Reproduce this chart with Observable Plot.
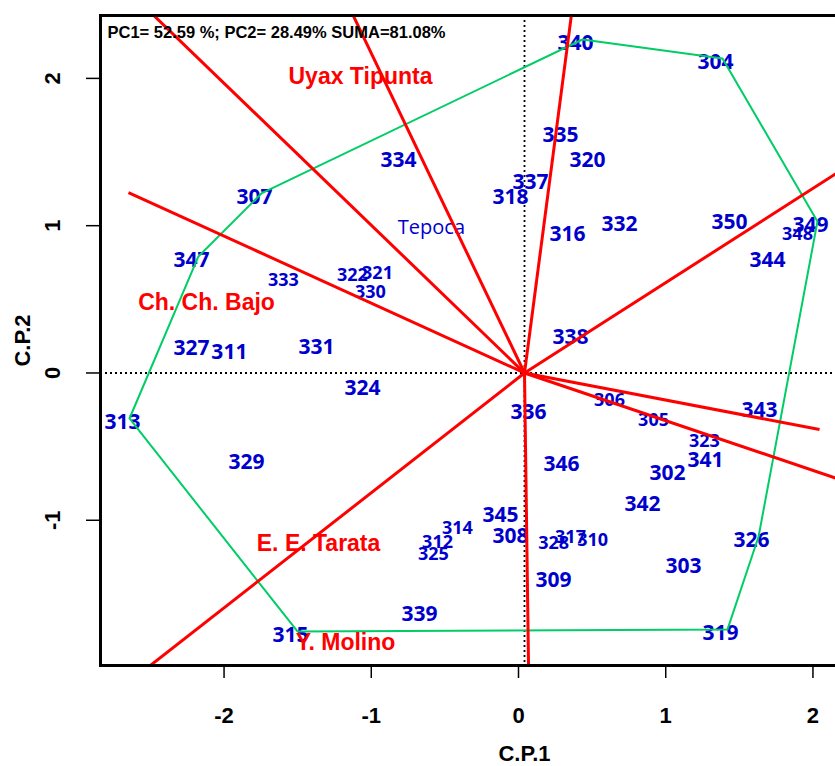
<!DOCTYPE html>
<html><head><meta charset="utf-8">
<script src="https://cdn.jsdelivr.net/npm/d3@7"></script>
<script src="https://cdn.jsdelivr.net/npm/@observablehq/plot@0.6"></script>
<style>
html,body{margin:0;padding:0;overflow:hidden;background:#fff;width:835px;height:766px}
svg{display:block;max-width:none!important;width:960px!important;height:766px!important}
</style>
</head><body><div id="chart"></div>
<script>
// Genotype scores (C.P.1, C.P.2)
const genotypes = ["340","304","335","320","337","318","316","332","334","307","350","349","348","344","347","333","322","321","330","338","327","311","331","324","313","336","306","305","323","341","343","346","302","342","329","345","308","314","312","325","328","317","310","309","303","326","339","315","319"];
const gx = [0.394,1.345,0.292,0.476,0.088,-0.048,0.340,0.693,-0.808,-1.787,1.440,1.990,1.902,1.698,-2.215,-1.590,-1.121,-0.951,-0.999,0.360,-2.215,-1.957,-1.366,-1.053,-2.683,0.075,0.625,0.924,1.270,1.277,1.644,0.299,1.019,0.849,-1.841,-0.115,-0.048,-0.408,-0.543,-0.571,0.245,0.360,0.510,0.245,1.128,1.590,-0.666,-1.542,1.379];
const gy = [2.264,2.135,1.640,1.470,1.320,1.219,0.967,1.035,1.470,1.219,1.049,1.029,0.967,0.791,0.791,0.655,0.689,0.703,0.574,0.268,0.193,0.166,0.200,-0.078,-0.309,-0.241,-0.160,-0.295,-0.438,-0.567,-0.227,-0.594,-0.655,-0.866,-0.580,-0.940,-1.083,-1.029,-1.124,-1.205,-1.130,-1.090,-1.110,-1.382,-1.286,-1.110,-1.612,-1.755,-1.741];
const smallLabels = ["348","333","322","321","330","306","305","323","314","312","325","328","317","310"];
// Convex hull (polygon) vertices, in order
const hullOrder = ["340","304","349","326","319","315","313","347","307","340"];

// Environment vectors (end points)
const vecX = [-2.77,-1.28,0.35,2.33,-2.690,2.004,2.43,0.03,-2.79];
const vecY = [2.67,2.67,2.67,1.49,1.225,-0.384,-0.82,-2.18,-2.18];

// Environment labels
const envNames = ["Uyax Tipunta","Ch. Ch. Bajo","E. E. Tarata","Y. Molino"];
const envLabelX = [-1.114,-2.160,-1.399,-1.216];
const envLabelY = [2.013,0.479,-1.158,-1.830];
const blueEnvNames = ["Tepoca"];
const blueEnvX = [-0.632];
const blueEnvY = [0.988];

const xTicks = [-2,-1,0,1,2];
const yTicks = [-1,0,1,2];
const titleText = "PC1= 52.59 %; PC2= 28.49% SUMA=81.08%";
const xTitle = "C.P.1";
const yTitle = "C.P.2";

const geno = genotypes.map((g,i)=>({g, x:gx[i], y:gy[i], small: smallLabels.includes(g)}));
const byId = new Map(geno.map(d=>[d.g,d]));
const hull = hullOrder.map(g=>byId.get(g));
const vecs = vecX.map((x,i)=>({x, y:vecY[i]}));
const envs = envNames.map((n,i)=>({n, x:envLabelX[i], y:envLabelY[i]}));
const benvs = blueEnvNames.map((n,i)=>({n, x:blueEnvX[i], y:blueEnvY[i]}));

const BLUE = "#0000CD", RED = "#FF0000", GREEN = "#00CD66";
const axFont = "'Liberation Sans',Arial,sans-serif";

const chart = Plot.plot({
  width: 960, height: 766,
  marginLeft: 100, marginRight: 12, marginTop: 15, marginBottom: 101,
  style: {maxWidth: "none"},
  x: {domain: [-2.88, 2.88]},
  y: {domain: [-1.986, 2.427]},
  marks: [
    Plot.ruleX([0], {stroke: "#000", strokeWidth: 1.8, strokeDasharray: "2,3"}),
    Plot.ruleY([0], {stroke: "#000", strokeWidth: 1.8, strokeDasharray: "2,3"}),
    Plot.text(geno.filter(d=>!d.small), {x:"x", y:"y", text:"g", fill: BLUE, fontSize: 21, fontWeight: 700, fontFamily: "'Open Sans',sans-serif", dx: -7, dy: 4}),
    Plot.text(geno.filter(d=>d.small), {x:"x", y:"y", text:"g", fill: BLUE, fontSize: 18, fontWeight: 700, fontFamily: "'Open Sans',sans-serif", dx: -7, dy: 4}),
    Plot.text(benvs, {x:"x", y:"y", text:"n", fill: BLUE, fontSize: 20, fontWeight: 400, fontFamily: "'Open Sans',sans-serif"}),
    Plot.line(hull, {x:"x", y:"y", stroke: GREEN, strokeWidth: 2}),
    Plot.link(vecs, {x1: d=>0, y1: d=>0, x2:"x", y2:"y", stroke: RED, strokeWidth: 3, clip: true}),
    Plot.text(envs, {x:"x", y:"y", text:"n", fill: RED, fontSize: 23, fontWeight: 700, fontFamily: "'Liberation Sans',Arial,sans-serif"}),
    Plot.text([titleText], {frameAnchor: "top-left", text: d=>d, dx: 7, dy: 17, textAnchor: "start", lineAnchor: "middle", fill: "#000", fontSize: 16.5, fontWeight: 700, fontFamily: "'Liberation Sans',Arial,sans-serif"}),
    Plot.frame({stroke: "#000", strokeWidth: 3}),
    Plot.axisX({ticks: xTicks, tickSize: 13, tickPadding: 29, tickFormat: d=>String(d), fontSize: 22, fontWeight: 700, fontFamily: axFont, strokeWidth: 1.5, dx: -6, label: null}),
    Plot.axisY({ticks: yTicks, tickSize: 14, tickPadding: 27, tickRotate: -90, tickFormat: d=>String(d), fontSize: 22, fontWeight: 700, fontFamily: axFont, strokeWidth: 1.5, label: null}),
    Plot.text([xTitle], {frameAnchor: "bottom", text: d=>d, dy: 88, textAnchor: "middle", lineAnchor: "middle", fontSize: 22, fontWeight: 700, fontFamily: axFont, fill: "#000"}),
    Plot.text([yTitle], {frameAnchor: "left", text: d=>d, dx: -78, rotate: -90, textAnchor: "middle", lineAnchor: "middle", fontSize: 22, fontWeight: 700, fontFamily: axFont, fill: "#000"})
  ]
});
document.getElementById("chart").appendChild(chart);
</script>
</body></html>
